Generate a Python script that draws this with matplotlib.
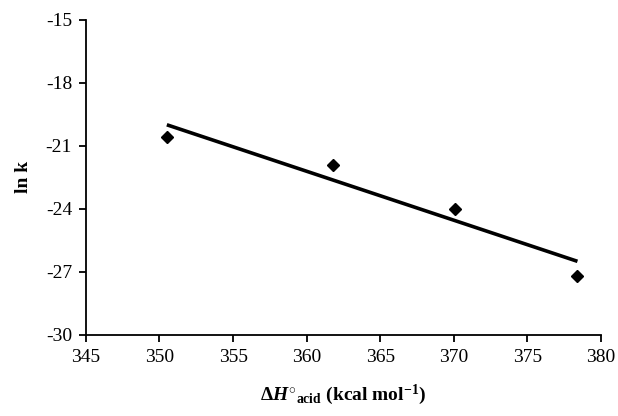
import numpy as np
import matplotlib
matplotlib.use("Agg")
import matplotlib.pyplot as plt

plt.rcParams['font.family'] = ['Liberation Serif', 'DejaVu Serif']
plt.rcParams['mathtext.fontset'] = 'custom'
plt.rcParams['mathtext.rm'] = 'Liberation Serif:bold'
plt.rcParams['mathtext.bf'] = 'Liberation Serif:bold'
plt.rcParams['mathtext.it'] = 'Liberation Serif:bold:italic'
plt.rcParams['mathtext.bfit'] = 'Liberation Serif:bold:italic'

dH_acid = [350.5, 361.8, 370.1, 378.4]
ln_k = [-20.6, -21.9, -24.0, -27.2]
x_ticks = [345, 350, 355, 360, 365, 370, 375, 380]
y_ticks = [-30, -27, -24, -21, -18, -15]

fig = plt.figure(figsize=(6.18, 4.16), dpi=100)
ax = fig.add_axes([0.139, 0.1955, 0.8335, 0.7565])

slope, intercept = np.polyfit(dH_acid, ln_k, 1)
xf = np.array([min(dH_acid), max(dH_acid)])
ax.plot(xf, slope * xf + intercept, color='black', lw=2.6, solid_capstyle='butt')
ax.plot(dH_acid, ln_k, linestyle='none', marker='D', color='black', markersize=6.5)

ax.set_xlim(345, 380)
ax.set_ylim(-30, -15)
ax.set_xticks(x_ticks)
ax.set_yticks(y_ticks)
ax.set_yticklabels([str(v) for v in y_ticks])
for s in ['top', 'right']:
    ax.spines[s].set_visible(False)
for s in ['left', 'bottom']:
    ax.spines[s].set_linewidth(1.3)
ax.tick_params(direction='out', length=5, width=1.3, labelsize=14, pad=5)

ax.set_ylabel('ln k', fontsize=14, fontweight='bold', labelpad=10)
ax.set_xlabel(r'$\Delta \mathit{H}^{\circ}{}_{\mathrm{acid}}$ (kcal mol$^{\mathrm{-1}}$)',
              fontsize=14, fontweight='bold', labelpad=12)

fig.savefig('out.png', dpi=100, facecolor='white')
